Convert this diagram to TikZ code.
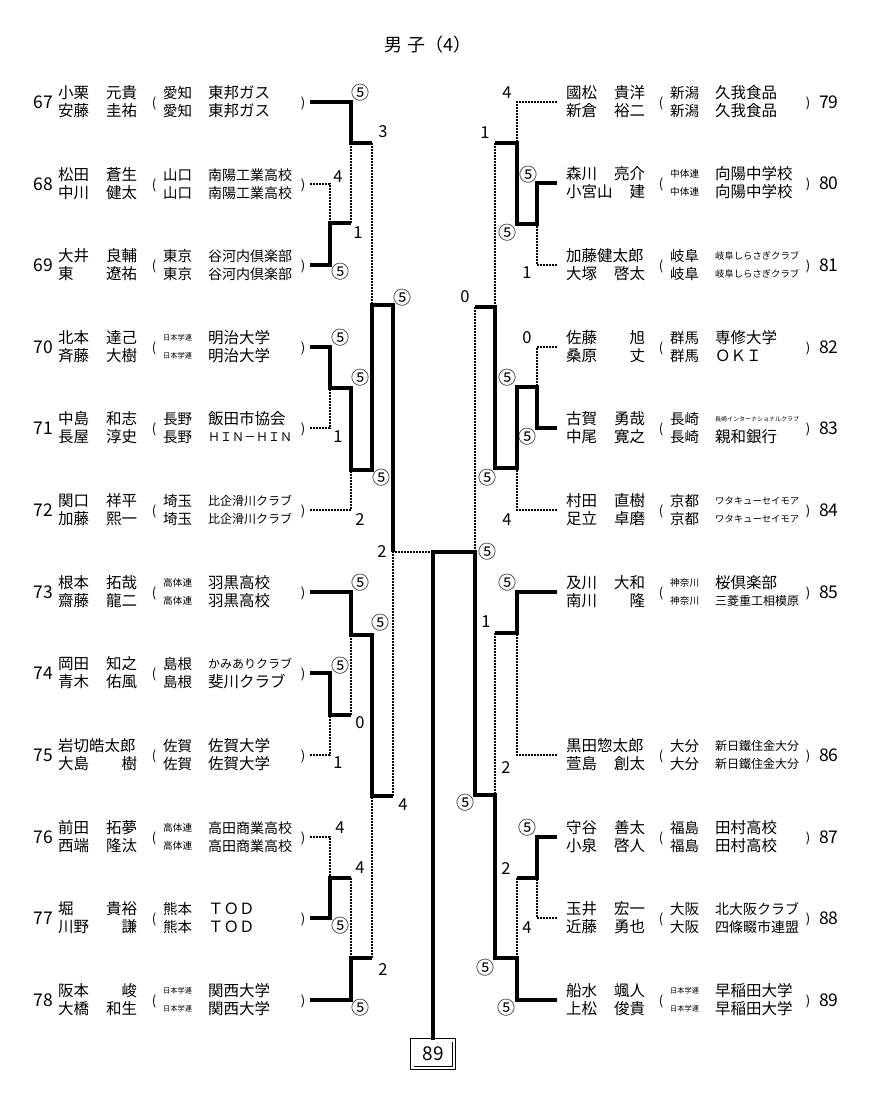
\documentclass[tikz,border=0pt]{standalone}
\usepackage{fontspec}
\usepackage{graphicx}
\newfontfamily\jp{Noto Sans CJK JP}

\newsavebox{\fitbox}
\newcommand{\fitto}[2]{\sbox{\fitbox}{#2}\ifdim\wd\fitbox>#1\resizebox{#1}{!}{\usebox{\fitbox}}\else\usebox{\fitbox}\fi}
\newcommand{\hname}[2]{\hbox to 79pt{#1\hfil#2}}

\tikzset{
  win/.style={line width=4pt},
  lose/.style={line width=2.6pt, dash pattern=on 2pt off 1pt},
  nm/.style={anchor=west, inner sep=0pt, font=\jp\fontsize{15.5}{18}\selectfont},
  no/.style={inner sep=0pt, font=\jp\fontsize{17.5}{18}\selectfont},
  par/.style={inner sep=0pt, font=\jp\fontsize{13}{13}\selectfont},
  score/.style={inner sep=0pt, font=\jp\fontsize{16.5}{16}\selectfont},
  five/.style={inner sep=0pt, font=\jp\fontsize{18}{18}\selectfont},
}

% y, no., name 1, name 2, pref, team 1, team 2
\newcommand{\pairL}[7]{%
  \node[no, anchor=east] (n#2) at (53,#1) {#2};
  \node[nm] (a#2) at (58,#1-9) {#3};
  \node[nm] (b#2) at (58,#1+9) {#4};
  \node[par] (l#2) at (154,#1+1) {(};
  \node[nm] (p#2) at (163,#1-9) {\fitto{29pt}{#5}};
  \node[nm] (q#2) at (163,#1+9) {\fitto{29pt}{#5}};
  \node[nm] (t#2) at (208,#1-9) {\fitto{84pt}{#6}};
  \node[nm] (u#2) at (208,#1+9) {\fitto{84pt}{#7}};
  \node[par] (r#2) at (303,#1+1) {)};
  \coordinate (e#2) at (310,#1);
}
\newcommand{\pairR}[7]{%
  \coordinate (e#2) at (557,#1);
  \node[nm] (a#2) at (566,#1-9) {#3};
  \node[nm] (b#2) at (566,#1+9) {#4};
  \node[par] (l#2) at (661,#1+1) {(};
  \node[nm] (p#2) at (670,#1-9) {\fitto{29pt}{#5}};
  \node[nm] (q#2) at (670,#1+9) {\fitto{29pt}{#5}};
  \node[nm] (t#2) at (715,#1-9) {\fitto{84pt}{#6}};
  \node[nm] (u#2) at (715,#1+9) {\fitto{84pt}{#7}};
  \node[par] (r#2) at (808,#1+1) {)};
  \node[no, anchor=west] (n#2) at (819,#1) {#2};
}

\begin{document}
\begin{tikzpicture}[x=1pt, y=-1pt]
    \useasboundingbox (0,0) rectangle (876,1106);

    \node[font=\jp\fontsize{18}{18}\selectfont] (title) at (428,45) {男 子（4）};

    % left block
    \pairL{102}{67}{\hname{小栗}{元貴}}{\hname{安藤}{圭祐}}{愛知}{東邦ガス}{東邦ガス}
    \pairL{184}{68}{\hname{松田}{蒼生}}{\hname{中川}{健太}}{山口}{南陽工業高校}{南陽工業高校}
    \pairL{265}{69}{\hname{大井}{良輔}}{\hname{東}{遼祐}}{東京}{谷河内倶楽部}{谷河内倶楽部}
    \pairL{347}{70}{\hname{北本}{達己}}{\hname{斉藤}{大樹}}{日本学連}{明治大学}{明治大学}
    \pairL{428}{71}{\hname{中島}{和志}}{\hname{長屋}{淳史}}{長野}{飯田市協会}{ＨＩＮ－ＨＩＮ}
    \pairL{510}{72}{\hname{関口}{祥平}}{\hname{加藤}{熙一}}{埼玉}{比企滑川クラブ}{比企滑川クラブ}
    \pairL{592}{73}{\hname{根本}{拓哉}}{\hname{齋藤}{龍二}}{高体連}{羽黒高校}{羽黒高校}
    \pairL{673}{74}{\hname{岡田}{知之}}{\hname{青木}{佑風}}{島根}{かみありクラブ}{斐川クラブ}
    \pairL{755}{75}{\hname{岩切皓太郎}{}}{\hname{大島}{樹}}{佐賀}{佐賀大学}{佐賀大学}
    \pairL{837}{76}{\hname{前田}{拓夢}}{\hname{西端}{隆汰}}{高体連}{高田商業高校}{高田商業高校}
    \pairL{918}{77}{\hname{堀}{貴裕}}{\hname{川野}{謙}}{熊本}{ＴＯＤ}{ＴＯＤ}
    \pairL{1000}{78}{\hname{阪本}{峻}}{\hname{大橋}{和生}}{日本学連}{関西大学}{関西大学}

    % right block
    \pairR{102}{79}{\hname{國松}{貴洋}}{\hname{新倉}{裕二}}{新潟}{久我食品}{久我食品}
    \pairR{183}{80}{\hname{森川}{亮介}}{\hname{小宮山}{建}}{中体連}{向陽中学校}{向陽中学校}
    \pairR{265}{81}{\hname{加藤健太郎}{}}{\hname{大塚}{啓太}}{岐阜}{岐阜しらさぎクラブ}{岐阜しらさぎクラブ}
    \pairR{347}{82}{\hname{佐藤}{旭}}{\hname{桑原}{丈}}{群馬}{専修大学}{ＯＫＩ}
    \pairR{428}{83}{\hname{古賀}{勇哉}}{\hname{中尾}{寛之}}{長崎}{長崎インターナショナルクラブ}{親和銀行}
    \pairR{510}{84}{\hname{村田}{直樹}}{\hname{足立}{卓磨}}{京都}{ワタキューセイモア}{ワタキューセイモア}
    \pairR{592}{85}{\hname{及川}{大和}}{\hname{南川}{隆}}{神奈川}{桜倶楽部}{三菱重工相模原}
    \pairR{755}{86}{\hname{黒田惣太郎}{}}{\hname{萱島}{創太}}{大分}{新日鐵住金大分}{新日鐵住金大分}
    \pairR{837}{87}{\hname{守谷}{善太}}{\hname{小泉}{啓人}}{福島}{田村高校}{田村高校}
    \pairR{918}{88}{\hname{玉井}{宏一}}{\hname{近藤}{勇也}}{大阪}{北大阪クラブ}{四條畷市連盟}
    \pairR{1000}{89}{\hname{船水}{颯人}}{\hname{上松}{俊貴}}{日本学連}{早稲田大学}{早稲田大学}

    \node[draw, double, line width=0.8pt, double distance=2.5pt, inner sep=0pt,
          minimum width=41.5pt, minimum height=27.5pt,
          font=\jp\fontsize{19}{19}\selectfont] (box) at (433,1054) {89};

    % left bracket
    \draw [win] (e67) -| (351,143) -- (372,143);
    \draw [lose] (e68) -| (330,223);
    \draw [win] (e69) -| (330,223) -- (351,223);
    \draw [lose] (351,223) -- (351,143);
    \draw [lose] (372,143) -- (372,305);
    \draw [win] (e70) -| (330,388) -- (351,388) -- (351,470) -- (372,470) -- (372,305) -- (393,305) -- (393,552);
    \draw [lose] (e71) -| (330,388);
    \draw [lose] (e72) -| (351,470);
    \draw [win] (e73) -| (351,635) -- (372,635) -- (372,796) -- (393,796);
    \draw [win] (e74) -| (330,715) -- (351,715);
    \draw [lose] (e75) -| (330,715);
    \draw [lose] (351,715) -- (351,635);
    \draw [lose] (393,796) -- (393,552) -- (433,552);
    \draw [lose] (e76) -| (330,878);
    \draw [win] (e77) -| (330,878) -- (351,878);
    \draw [lose] (351,878) -- (351,958);
    \draw [win] (e78) -| (351,958) -- (372,958);
    \draw [lose] (372,958) -- (372,796);

    % right bracket
    \draw [lose] (e79) -| (517,143);
    \draw [win] (e80) -| (537,224) -- (517,224) -- (517,143) -- (495,143);
    \draw [lose] (e81) -| (537,224);
    \draw [lose] (495,143) -- (495,307);
    \draw [lose] (e82) -| (537,387);
    \draw [win] (e83) -| (537,387) -- (517,387) -- (517,468) -- (495,468) -- (495,307) -- (475,307);
    \draw [lose] (e84) -| (517,468);
    \draw [lose] (475,307) -- (475,552);
    \draw [win] (e85) -| (517,633) -- (495,633);
    \draw [lose] (e86) -| (517,633);
    \draw [lose] (495,633) -- (495,795);
    \draw [win] (e87) -| (537,878) -- (517,878);
    \draw [lose] (e88) -| (537,878);
    \draw [lose] (517,878) -- (517,958);
    \draw [win] (e89) -| (517,958) -- (495,958) -- (495,795) -- (475,795) -- (475,552) -- (433,552) -- (box.north);

    % scores, left
    \node [five] (sL1) at (360,93) {⑤};
    \node [score] (sL2) at (383,132) {3};
    \node [score] (sL3) at (338,177) {4};
    \node [score] (sL4) at (358,233) {1};
    \node [five] (sL5) at (340,272) {⑤};
    \node [five] (sL6) at (402,298) {⑤};
    \node [five] (sL7) at (340,338) {⑤};
    \node [five] (sL8) at (360,378) {⑤};
    \node [score] (sL9) at (338,437) {1};
    \node [five] (sL10) at (381,478) {⑤};
    \node [score] (sL11) at (360,520) {2};
    \node [score] (sL12) at (382,552) {2};
    \node [five] (sL13) at (360,583) {⑤};
    \node [five] (sL14) at (380,623) {⑤};
    \node [five] (sL15) at (340,666) {⑤};
    \node [score] (sL16) at (360,723) {0};
    \node [score] (sL17) at (338,763) {1};
    \node [score] (sL18) at (403,805) {4};
    \node [score] (sL19) at (340,828) {4};
    \node [score] (sL20) at (360,868) {4};
    \node [five] (sL21) at (340,926) {⑤};
    \node [score] (sL22) at (383,969) {2};
    \node [five] (sL23) at (360,1008) {⑤};

    % scores, right
    \node [score] (sR1) at (507,93) {4};
    \node [score] (sR2) at (485,133) {1};
    \node [five] (sR3) at (528,175) {⑤};
    \node [five] (sR4) at (507,233) {⑤};
    \node [score] (sR5) at (527,273) {1};
    \node [score] (sR6) at (465,297) {0};
    \node [score] (sR7) at (527,338) {0};
    \node [five] (sR8) at (507,378) {⑤};
    \node [five] (sR9) at (527,437) {⑤};
    \node [five] (sR10) at (487,478) {⑤};
    \node [score] (sR11) at (507,520) {4};
    \node [five] (sR12) at (487,552) {⑤};
    \node [five] (sR13) at (507,583) {⑤};
    \node [score] (sR14) at (486,622) {1};
    \node [score] (sR15) at (506,767) {2};
    \node [five] (sR16) at (465,803) {⑤};
    \node [five] (sR17) at (527,828) {⑤};
    \node [score] (sR18) at (506,868) {2};
    \node [score] (sR19) at (527,928) {4};
    \node [five] (sR20) at (485,968) {⑤};
    \node [five] (sR21) at (506,1008) {⑤};

\end{tikzpicture}
\end{document}
